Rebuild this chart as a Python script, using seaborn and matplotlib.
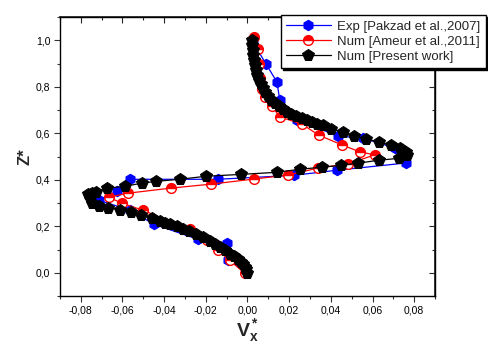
import matplotlib
matplotlib.use("Agg")
import matplotlib.pyplot as plt
import seaborn as sns
import numpy as np
from matplotlib.ticker import FuncFormatter, MultipleLocator

# ---------------- data ----------------
exp_vx = [0.0025, 0.0088, 0.0141, 0.0155, 0.0237, 0.0433, 0.0553, 0.0707, 0.0760,
          0.0429, 0.0222, -0.0143, -0.0565, -0.0628, -0.0714, -0.0565, -0.0450,
          -0.0239, -0.0099, -0.0095, -0.0008]
exp_z = [0.994, 0.899, 0.821, 0.743, 0.658, 0.588, 0.579, 0.537, 0.472,
         0.441, 0.419, 0.402, 0.402, 0.350, 0.312, 0.269, 0.209,
         0.144, 0.127, 0.053, 0.010]

ameur_vx = [0.0030, 0.0049, 0.0054, 0.0059, 0.0069, 0.0083, 0.0117, 0.0155, 0.0260,
            0.0342, 0.0453, 0.0539, 0.0611, 0.0481, 0.0337, 0.0193, 0.0030, -0.0176,
            -0.0368, -0.0575, -0.0666, -0.0603, -0.0503, -0.0277, -0.0195, -0.0143,
            -0.0085, -0.0013]
ameur_z = [1.013, 0.964, 0.899, 0.839, 0.792, 0.757, 0.718, 0.670, 0.640,
           0.592, 0.550, 0.520, 0.507, 0.468, 0.450, 0.420, 0.403, 0.381,
           0.364, 0.342, 0.325, 0.299, 0.269, 0.187, 0.140, 0.096,
           0.053, -0.003]

present_vx = [0.0021, 0.0023, 0.0025, 0.0027, 0.0030, 0.0035, 0.0040, 0.0047, 0.0054,
              0.0063, 0.0073, 0.0085, 0.0097, 0.0113, 0.0130, 0.0150, 0.0170, 0.0190,
              0.0210, 0.0235, 0.0260, 0.0285, 0.0310, 0.0335, 0.0360, 0.0400, 0.0460,
              0.0510, 0.0570, 0.0630, 0.0690, 0.0730, 0.0760, 0.0765, 0.0726, 0.0630,
              0.0530, 0.0450, 0.0357, 0.0250, 0.0140, -0.0032, -0.0200, -0.0325,
              -0.0440, -0.0508, -0.0590, -0.0675, -0.0729, -0.0747, -0.0767, -0.0757,
              -0.0747, -0.0714, -0.0670, -0.0613, -0.0560, -0.0512, -0.0460, -0.0420,
              -0.0395, -0.0373, -0.0340, -0.0310, -0.0280, -0.0248, -0.0215, -0.0180,
              -0.0155, -0.0133, -0.0108, -0.0085, -0.0065, -0.0047, -0.0033, -0.0023,
              -0.0014, -0.0008, -0.0003]
present_z = [1.002, 0.980, 0.959, 0.938, 0.916, 0.894, 0.872, 0.850, 0.829,
             0.812, 0.795, 0.777, 0.760, 0.745, 0.730, 0.717, 0.704, 0.693,
             0.683, 0.674, 0.665, 0.656, 0.648, 0.641, 0.635, 0.618, 0.605,
             0.588, 0.575, 0.562, 0.549, 0.536, 0.518, 0.505, 0.492, 0.484,
             0.471, 0.462, 0.454, 0.445, 0.432, 0.423, 0.415, 0.402,
             0.393, 0.385, 0.372, 0.363, 0.346, 0.341, 0.337, 0.320,
             0.302, 0.289, 0.280, 0.272, 0.263, 0.250, 0.237, 0.224,
             0.216, 0.208, 0.199, 0.190, 0.178, 0.165, 0.152, 0.138,
             0.125, 0.112, 0.097, 0.082, 0.071, 0.060, 0.048, 0.036,
             0.026, 0.017, 0.001]

labels = ["Exp [Pakzad et al.,2007]", "Num [Ameur et al.,2011]", "Num [Present work]"]

# ---------------- style ----------------
sns.set_theme(style="ticks")
plt.rcParams['font.family'] = ['Liberation Sans', 'DejaVu Sans']
plt.rcParams['mathtext.fontset'] = 'custom'
plt.rcParams['mathtext.rm'] = 'Liberation Sans'
plt.rcParams['mathtext.bf'] = 'Liberation Sans:bold'

fig = plt.figure(figsize=(4.88, 3.45), dpi=100)
ax = fig.add_axes([60/488, 1-296/345, (435-60)/488, (296-17)/345])

sns.lineplot(x=exp_vx, y=exp_z, sort=False, estimator=None, ax=ax,
             color='#0000ff', lw=0.9, marker='h', markersize=7.5,
             markeredgecolor='#0000ff', markerfacecolor='#0000ff', label=labels[0])
sns.lineplot(x=ameur_vx, y=ameur_z, sort=False, estimator=None, ax=ax,
             color='#ff0000', lw=0.9, marker='o', markersize=7,
             markeredgecolor='#ff0000', markerfacecolor='#ff0000',
             fillstyle='top', markerfacecoloralt='white', markeredgewidth=1.0,
             label=labels[1])
sns.lineplot(x=present_vx, y=present_z, sort=False, estimator=None, ax=ax,
             color='black', lw=0.9, marker='p', markersize=8.5,
             markeredgecolor='black', markerfacecolor='black', label=labels[2])

ax.set_xlim(-0.09, 0.09)
ax.set_ylim(-0.1, 1.1)
ax.xaxis.set_major_locator(MultipleLocator(0.02))
ax.xaxis.set_minor_locator(MultipleLocator(0.01))
ax.yaxis.set_major_locator(MultipleLocator(0.2))
ax.yaxis.set_minor_locator(MultipleLocator(0.1))
ax.xaxis.set_major_formatter(FuncFormatter(lambda v, p: f"{v:.2f}".replace('.', ',').replace('-0,00', '0,00')))
ax.yaxis.set_major_formatter(FuncFormatter(lambda v, p: f"{v:.1f}".replace('.', ',').replace('-0,0', '0,0')))
ax.tick_params(which='major', direction='out', length=4, width=0.8, labelsize=7.5, colors='#333333',
               labelcolor='black', pad=3)
ax.tick_params(which='minor', direction='out', length=2.5, width=0.8, colors='#333333')

for s in ax.spines.values():
    s.set_linewidth(1.0)
    s.set_color('black')

# mirrored ticks pointing inward on top and right
top = ax.secondary_xaxis('top')
top.xaxis.set_major_locator(MultipleLocator(0.02))
top.xaxis.set_minor_locator(MultipleLocator(0.01))
top.tick_params(which='major', direction='in', length=4, width=0.8, labeltop=False)
top.tick_params(which='minor', direction='in', length=2.5, width=0.8)
right = ax.secondary_yaxis('right')
right.yaxis.set_major_locator(MultipleLocator(0.2))
right.yaxis.set_minor_locator(MultipleLocator(0.1))
right.tick_params(which='major', direction='in', length=4, width=0.8, labelright=False)
right.tick_params(which='minor', direction='in', length=2.5, width=0.8)

ax.set_xlabel(r'$\mathbf{V_x^*}$', fontsize=14, labelpad=1)
ax.set_ylabel('Z*', fontsize=12, fontweight='bold', labelpad=2)

ax.get_legend().remove()
handles, labs = ax.get_legend_handles_labels()
leg = fig.legend(handles, labs, loc='upper right', bbox_to_anchor=(486/488, 1-15/345),
                 fontsize=9.5, frameon=True, fancybox=False, borderpad=0.4,
                 handlelength=3.4, handletextpad=0.5, labelspacing=0.22,
                 borderaxespad=0, shadow={'color': 'black', 'alpha': 1.0, 'ox': 1.5, 'oy': -1.5})
leg.get_frame().set_edgecolor('black')
leg.get_frame().set_linewidth(1.0)

fig.savefig('out.png', dpi=100)
